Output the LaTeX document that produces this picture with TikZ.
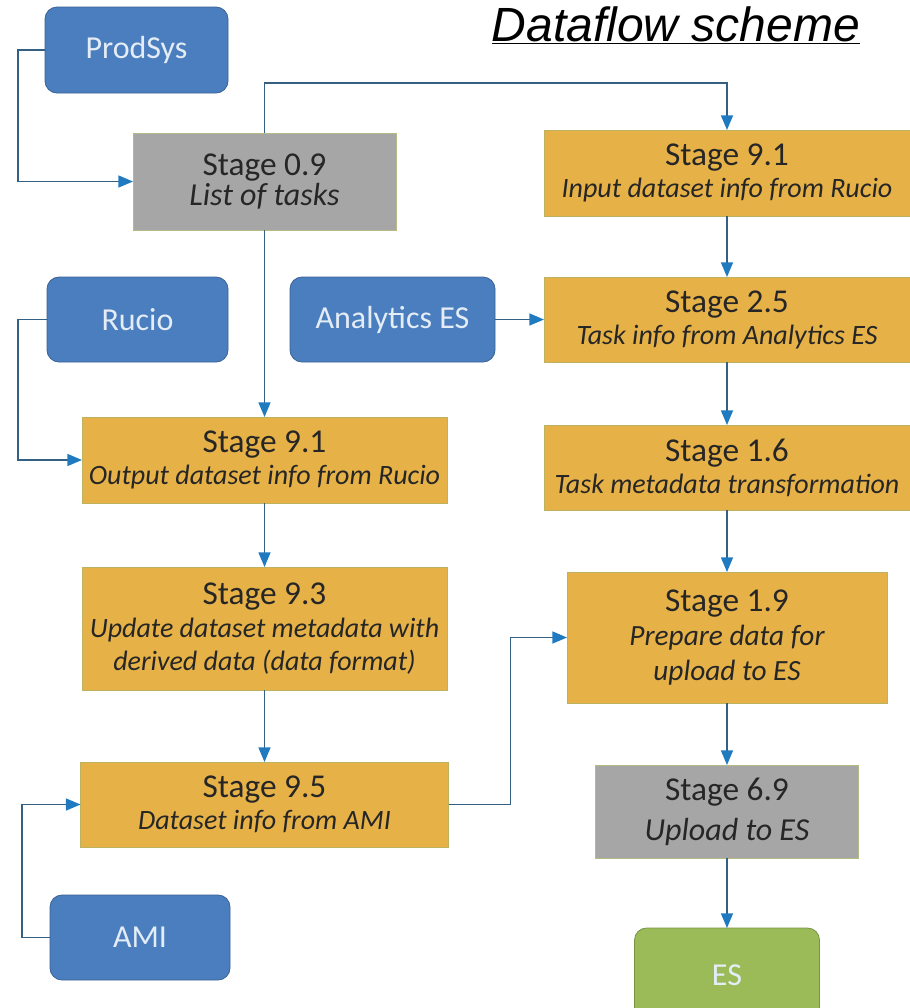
\documentclass[tikz,border=0pt]{standalone}
\usepackage{fontspec}
\setmainfont{Carlito}
\newfontfamily\titlefont{Liberation Sans}
\usetikzlibrary{arrows.meta}
\definecolor{bluefill}{RGB}{74,126,190}
\definecolor{blueline}{RGB}{58,98,148}
\definecolor{bluetext}{RGB}{228,236,246}
\definecolor{orfill}{RGB}{230,178,72}
\definecolor{orline}{RGB}{188,178,96}
\definecolor{grfill}{RGB}{166,166,166}
\definecolor{grline}{RGB}{182,186,132}
\definecolor{esfill}{RGB}{155,187,89}
\definecolor{esline}{RGB}{118,148,68}
\definecolor{linec}{RGB}{52,96,132}
\definecolor{tipc}{RGB}{32,122,192}
\newcommand\subt{\fontsize{21}{24}\selectfont\itshape}
\newcommand\subg{\fontsize{24}{26}\selectfont\itshape}
\begin{document}
\begin{tikzpicture}[x=0.75pt,y=-0.75pt,
  sz/.style 2 args={minimum width=#1*0.75pt, minimum height=#2*0.75pt},
  base/.style={inner sep=0pt, outer sep=0pt, align=center, line width=0.6pt},
  src/.style={base, fill=bluefill, draw=blueline, rounded corners=9pt, text=bluetext, font=\fontsize{24}{26}\selectfont},
  stagebox/.style={base, fill=orfill, draw=orline, text=black!85, font=\fontsize{25}{24}\selectfont},
  graybox/.style={base, fill=grfill, draw=grline, text=black!85, font=\fontsize{25}{23}\selectfont},
  sinkbox/.style={base, fill=esfill, draw=esline, rounded corners=9pt, text=bluetext, font=\fontsize{24}{26}\selectfont},
  arr/.style={draw=linec, line width=1.2pt, -{Triangle[length=11pt,width=9pt,color=tipc]}}
]
\useasboundingbox (0,0) rectangle (910,1008);
\clip (0,0) rectangle (910,1008);

% title
\node[anchor=base, inner sep=0pt] (title) at (676,41) {\titlefont\fontsize{36}{40}\selectfont\itshape\underline{Dataflow scheme}};

% sources
\node[src, sz={183}{86}] (prod) at (136.5,50) {ProdSys};
\node[src, sz={181}{85}] (rucio) at (137.5,319.5) {Rucio};
\node[src, sz={205}{85}] (aes) at (392.5,319.5) {Analytics ES};
\node[src, sz={180}{85}] (ami) at (140,937.5) {AMI};

% left column
\node[graybox, sz={263}{97}] (s09) at (264.5,181.5) {Stage 0.9\\\subg List of tasks};
\node[stagebox, sz={365}{86}] (s91l) at (264.5,460) {Stage 9.1\\\subt Output dataset info from Rucio};
\node[stagebox, sz={365}{123}, font=\fontsize{25}{25}\selectfont] (s93) at (264.5,628.5) {Stage 9.3\\\subt Update dataset metadata with\\\subt derived data (data format)};
\node[stagebox, sz={368}{85}] (s95) at (264.5,804.5) {Stage 9.5\\\subt Dataset info from AMI};

% right column
\node[stagebox, sz={366}{86}] (s91r) at (727,173) {Stage 9.1\\\subt Input dataset info from Rucio};
\node[stagebox, sz={366}{85}] (s25) at (727,319.5) {Stage 2.5\\\subt Task info from Analytics ES};
\node[stagebox, sz={366}{85}] (s16) at (727,467.5) {Stage 1.6\\\subt Task metadata transformation};
\node[stagebox, sz={320}{131}, font=\fontsize{25}{26}\selectfont] (s19) at (727,637.5) {Stage 1.9\\\fontsize{22}{26}\selectfont\itshape Prepare data for\\\fontsize{22}{26}\selectfont\itshape upload to ES};
\node[graybox, sz={263}{93}, font=\fontsize{25}{30}\selectfont] (s69) at (727,811.5) {Stage 6.9\\\subg Upload to ES};
\node[sinkbox, sz={185}{94}] (es) at (727,975) {ES};

% connectors
\coordinate (ctop) at (264.5,83);
\draw[arr] (prod.west) -- ++(-27,0) |- (s09.west);
\draw[arr] (s09.north) -- (ctop) -| (s91r.north);
\draw[arr] (s09.south) -- (s91l.north);
\draw[arr] (rucio.west) -- ++(-29,0) |- (s91l.west);
\draw[arr] (aes.east) -- (s25.west);
\draw[arr] (s91r.south) -- (s25.north);
\draw[arr] (s25.south) -- (s16.north);
\draw[arr] (s16.south) -- (s19.north);
\draw[arr] (s91l.south) -- (s93.north);
\draw[arr] (s93.south) -- (s95.north);
\draw[arr] (ami.west) -- ++(-28,0) |- (s95.west);
\draw[arr] (s95.east) -- ++(62,0) |- (s19.west);
\draw[arr] (s19.south) -- (s69.north);
\draw[arr] (s69.south) -- (es.north);
\end{tikzpicture}
\end{document}
